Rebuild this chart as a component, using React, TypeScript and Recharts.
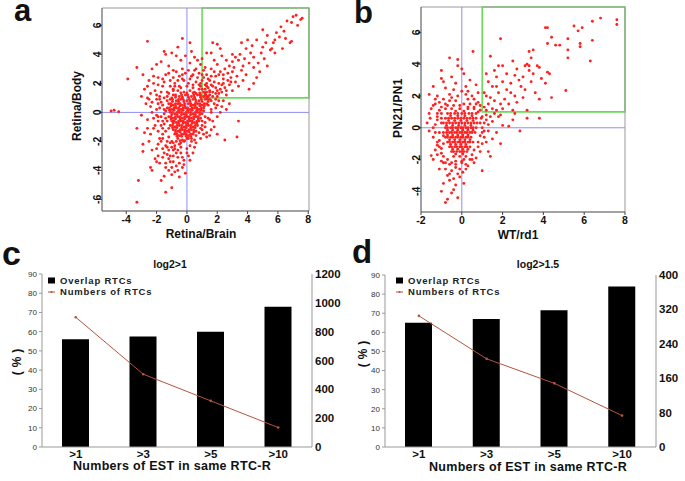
import React from 'react';
import {
  ScatterChart,
  Scatter,
  XAxis,
  YAxis,
  ReferenceLine,
  ReferenceArea,
  ComposedChart,
  Bar,
  Line,
  Legend,
} from 'recharts';

const FONT = '"Liberation Sans", Arial, Helvetica, sans-serif';

// scatter a: Retina/Brain (x) vs Retina/Body (y)
const A_POINTS_RAW = `
7.2,6.7 7.0,6.6 7.5,6.4 6.9,6.2 7.3,6.0 6.6,6.3 6.2,5.9 6.4,5.6 5.9,5.5 6.1,5.2 5.8,5.0 6.8,4.8 5.0,5.7 5.3,5.3
5.6,4.4 5.5,4.3 5.0,4.5 4.9,4.1 4.6,5.0 4.3,4.6 4.0,5.0 4.2,4.1 3.9,4.4 4.4,3.8 4.7,3.4 4.4,3.1 3.7,3.2 3.5,4.0
3.2,3.8 3.4,3.6 3.0,4.0 3.0,3.5 2.8,3.2 2.6,3.6 2.5,3.0 2.7,2.7 3.1,3.1 3.6,2.9 3.9,2.6 3.3,2.5 2.9,2.4 2.4,2.3
2.2,2.8 2.0,3.3 1.8,3.6 1.6,4.1 2.3,3.9 1.9,2.5 2.1,2.0 1.5,2.2 1.3,2.6 1.2,3.1 1.7,1.8 2.5,1.7 2.8,1.9 3.0,1.5
2.3,1.4 1.9,1.3 1.5,1.5 1.2,1.9 1.1,1.4 1.4,1.1 2.0,1.1 2.6,1.2 3.4,1.8 4.1,1.6 3.7,2.2 4.6,2.4 4.8,2.8 5.3,3.2
5.1,3.7 5.8,4.1 6.3,4.4 6.9,4.9 4.4,2.0 2.2,4.4 2.0,4.7 3.6,4.8 1.3,4.1 1.0,3.7 1.1,2.4 1.6,3.0 2.7,2.2 3.2,2.1
3.8,3.7 4.1,3.4 3.0,2.8 2.4,2.6 1.8,2.1 1.4,1.7 1.9,1.7 2.3,1.9 1.2,1.2 5.7,4.8 5.2,4.8 6.5,5.1 7.6,6.5
-2.6,4.9 -0.3,5.1 0.2,4.8 1.7,4.8 -1.5,4.2 -1.4,4.0 -1.0,4.1 -0.7,3.9 0.5,3.8 -0.4,3.6 0.2,3.4 -1.7,3.5 -2.0,3.3
-2.3,3.0 -1.2,3.2 -0.9,2.9 -0.3,3.0 0.1,2.9 0.6,3.0 0.9,3.3 0.4,2.6 -0.5,2.5 -1.4,2.6 -1.9,2.4 -2.5,2.2 -2.8,1.6
-3.3,3.1 -3.9,2.3 -1.1,2.2 -0.8,2.0 -0.2,2.2 0.2,2.3 0.7,2.4 0.9,2.0 -1.6,1.8 -2.1,1.5 -2.6,1.0 -1.3,1.4 -0.9,1.6
-0.5,1.8 0.0,1.8 0.4,1.9 0.8,1.6 -1.8,1.1 -3.0,1.1 -2.3,0.7 0.3,4.2 -0.1,3.9 0.7,3.6 -0.6,4.5 1.0,2.6 -2.9,2.6
-2.2,2.0 -1.0,1.0 0.9,1.2 -0.3,2.6 0.5,1.4
-1.9,1.9 -1.6,2.3 -1.2,2.7 -0.7,2.8 -0.1,2.7 0.5,2.9 0.8,2.7 1.1,2.9 -2.4,1.3 -2.0,0.9 -1.7,1.4 -1.1,1.8
-0.6,2.2 0.1,2.0 0.6,2.1 1.3,2.0 1.6,2.5 1.8,2.8 2.1,2.6 2.4,2.0 2.2,1.6 2.6,1.5 2.9,2.1 1.6,1.9 2.0,1.5
1.3,1.8 1.7,1.4 2.1,1.3 1.4,2.3 1.0,2.2 0.9,1.8 0.3,2.5 -0.3,2.3 -0.9,2.4 -1.5,2.1 -2.2,2.5 -2.6,1.8 -2.0,1.2
-1.3,1.1 -0.8,1.8
-4.8,0.15 -4.5,0.05 -5.0,0.1 -3.3,-1.1 -2.9,-2.2 -2.8,-1.4 -2.6,-0.5 -2.4,0.4 -2.0,-0.2 -1.9,0.6 -1.7,-0.9
-1.6,-1.5 -2.2,-1.1 -2.5,-2.0 -1.5,0.2 -1.4,-0.4 -1.3,0.8 -1.2,-1.1 -1.8,-1.8 -2.0,-2.5 -1.4,-2.3 -3.0,-0.2 -2.7,0.6
-2.2,-0.4 -2.1,-0.9 -1.9,-1.3 -1.7,-2.0 -1.5,-2.8 -1.2,-3.2 -0.9,-3.4 -0.5,-3.5 -0.3,-3.1 -0.7,-2.8 -1.0,-2.4
-1.3,-2.0 -1.6,-1.8 -1.9,-2.2 -2.3,-2.6 -2.0,-3.4 -1.6,-3.1 -1.1,-3.0 -0.8,-2.5 -0.4,-2.4 0.0,-2.8 0.3,-2.0
0.5,-2.4 0.2,-3.3 -0.2,-3.6 -0.6,-4.0 -1.4,-3.8 -1.0,-3.8 -0.4,-2.1 -0.9,-2.1 -1.3,-2.4 -2.4,-1.5 -2.6,-1.1
-2.3,0.0 -2.5,0.9 -1.8,0.3 -1.9,-0.3 -1.5,-0.1 -1.6,-0.6 -1.7,0.7
3.4,-0.6 3.3,-1.7 2.5,-1.9 1.3,-1.4 1.3,-1.7 1.8,-1.0 1.5,-0.5 1.2,-0.3 1.0,-0.9 1.6,0.2 2.0,0.5 2.4,0.8 1.9,0.9
1.4,0.5 1.1,0.1 2.2,0.0 2.8,0.6 1.0,-1.2 0.9,-1.8 1.5,-1.6
1.7,-0.6 2.0,-0.3 2.3,0.4 1.9,0.3 1.5,0.9 2.1,0.8 2.6,0.2 1.2,-1.0 1.6,-1.2 2.0,-1.5 1.1,-1.5
-3.2,-4.7 -3.3,-6.2 -1.4,-5.5 -1.0,-5.2 -1.7,-4.7 -1.0,-4.3 -0.5,-4.45 -2.1,-3.2 -2.4,-3.8 -1.4,-3.5 -2.3,-4.0
-2.9,-2.7 -1.1,-3.4 -0.7,-3.7 -1.3,-2.9 -0.9,-2.6 -0.6,-3.1 -0.4,-2.8 -0.2,-3.3 0.0,-2.5 -1.6,-2.5 -1.1,-2.1
-0.8,-2.3 -0.5,-2.2 -0.2,-2.0 0.2,-2.3 0.4,-2.8 0.6,-2.1 -1.9,-3.0 -1.2,-4.0 -0.8,-4.1 -0.3,-3.8 -1.5,-4.4
-0.6,-2.6 -0.9,-3.0 -1.2,-2.6 0.1,-3.0 -0.1,-4.2 0.0,-1.8 -1.8,-3.5
-1.5,1.0 -1.6,0.5 -1.7,-0.3 -1.5,-0.8 -1.4,-1.3 -1.2,-1.7 -1.0,-2.0 -0.7,-2.0 -1.6,-1.1 -1.3,-0.6 -1.4,0.1
-1.2,1.3 -0.9,1.5 -0.4,1.7 0.4,1.7 0.8,1.9 1.2,1.6 1.5,1.4 1.7,1.1 1.8,0.6 1.6,0.0 1.4,-0.4 1.2,-0.7 1.0,-0.6
0.9,-1.1 0.8,-1.4 0.6,-1.6 0.5,-1.9 0.3,-1.8 -1.8,0.9 -2.0,0.2 -1.9,-0.6
-0.6,1.5 -0.2,1.4 0.2,1.5 0.6,1.3 1.0,1.6 1.3,1.4
-0.9,1.2 -0.5,1.1 -0.1,1.2 0.3,1.1 0.7,1.2 1.1,1.1 1.5,1.2
-1.1,0.9 -0.7,0.8 -0.4,0.9 0.0,0.8 0.4,0.9 0.8,0.8 1.2,0.9 1.6,0.8
-1.2,0.6 -0.9,0.5 -0.6,0.6 -0.3,0.5 0.1,0.6 0.4,0.5 0.7,0.6 1.0,0.5 1.3,0.6
-1.3,0.3 -1.0,0.2 -0.7,0.3 -0.4,0.2 -0.1,0.3 0.2,0.2 0.5,0.3 0.8,0.2 1.1,0.3
-1.1,0.0 -0.8,-0.1 -0.5,0.0 -0.2,-0.1 0.1,0.0 0.4,-0.1 0.7,0.0 1.0,-0.1
-1.2,-0.3 -0.9,-0.4 -0.6,-0.3 -0.3,-0.4 0.0,-0.3 0.3,-0.4 0.6,-0.3 0.9,-0.4
-1.0,-0.6 -0.7,-0.7 -0.4,-0.6 -0.1,-0.7 0.2,-0.6 0.5,-0.7 0.8,-0.6
-1.1,-0.9 -0.8,-1.0 -0.5,-0.9 -0.2,-1.0 0.1,-0.9 0.4,-1.0 0.7,-0.9
-0.9,-1.2 -0.6,-1.3 -0.3,-1.2 0.0,-1.3 0.3,-1.2 0.6,-1.3
-0.8,-1.5 -0.5,-1.6 -0.2,-1.5 0.1,-1.6 0.4,-1.5
-0.6,-1.8 -0.3,-1.9 0.1,-1.8
-0.4,1.35 0.0,1.35 0.4,1.35 0.85,1.35 1.2,1.35
-0.75,1.05 -0.3,1.05 0.1,1.05 0.5,1.05 0.9,1.05 1.3,1.05
-0.95,0.75 -0.55,0.75 -0.2,0.75 0.2,0.75 0.6,0.75 1.0,0.75 1.4,0.75
-1.05,0.45 -0.75,0.45 -0.45,0.45 -0.15,0.45 0.25,0.45 0.55,0.45 0.85,0.45 1.15,0.45
-1.15,0.15 -0.85,0.15 -0.55,0.15 -0.25,0.15 0.05,0.15 0.35,0.15 0.65,0.15 0.95,0.15
-1.0,-0.15 -0.65,-0.15 -0.35,-0.15 -0.05,-0.15 0.25,-0.15 0.55,-0.15 0.85,-0.15
-1.05,-0.45 -0.75,-0.45 -0.45,-0.45 -0.15,-0.45 0.15,-0.45 0.45,-0.45 0.75,-0.45
-0.9,-0.75 -0.55,-0.75 -0.25,-0.75 0.05,-0.75 0.35,-0.75 0.65,-0.75
-0.95,-1.05 -0.65,-1.05 -0.35,-1.05 -0.05,-1.05 0.25,-1.05 0.55,-1.05
-0.75,-1.35 -0.45,-1.35 -0.15,-1.35 0.15,-1.35 0.45,-1.35
-0.65,-1.65 -0.35,-1.65 -0.05,-1.65 0.25,-1.65
-0.45,-1.95 -0.15,-1.95
-0.75,1.2 -0.35,1.2 0.05,1.2 0.45,1.2 0.85,1.2 1.25,1.2
-0.95,0.9 -0.55,0.9 -0.25,0.9 0.15,0.9 0.55,0.9 0.95,0.9 1.35,0.9
-1.05,0.6 -0.75,0.6 -0.45,0.6 -0.15,0.6 0.25,0.6 0.55,0.6 0.85,0.6 1.15,0.6
-1.15,0.3 -0.85,0.3 -0.55,0.3 -0.25,0.3 0.05,0.3 0.35,0.3 0.65,0.3 0.95,0.3
-0.95,0.0 -0.65,0.0 -0.35,0.0 -0.05,0.0 0.25,0.0 0.55,0.0 0.85,0.0
-1.05,-0.3 -0.75,-0.3 -0.45,-0.3 -0.15,-0.3 0.15,-0.3 0.45,-0.3 0.75,-0.3
-0.85,-0.6 -0.55,-0.6 -0.25,-0.6 0.05,-0.6 0.35,-0.6 0.65,-0.6
-0.95,-0.9 -0.65,-0.9 -0.35,-0.9 -0.05,-0.9 0.25,-0.9 0.55,-0.9
-0.75,-1.2 -0.45,-1.2 -0.15,-1.2 0.15,-1.2 0.45,-1.2
-0.65,-1.5 -0.35,-1.5 -0.05,-1.5 0.25,-1.5
`;

// scatter b: WT/rd1 (x) vs PN21/PN1 (y)
const B_POINTS_RAW = `
7.6,6.8 7.6,6.5 6.8,6.9 6.4,6.7 5.9,6.3 5.5,6.4 5.7,6.1 4.1,6.3 4.2,6.3 5.2,5.6 6.4,5.5 5.8,5.3 5.8,5.1 5.2,4.9
5.2,4.4 6.3,4.2 4.6,5.2 4.8,5.2 4.2,5.3 4.4,5.7 5.1,2.35 4.4,1.9 3.5,4.9 3.3,4.8 3.4,4.4 3.2,4.0 3.1,3.9 3.3,3.9
3.7,3.9 3.8,3.8 4.2,3.5 4.3,3.4 3.5,3.4 3.3,3.6 2.5,4.2 2.0,3.9 1.8,3.9 1.4,4.5 1.9,5.6 3.0,3.2 2.8,3.0 2.6,3.3
2.4,2.8 2.9,2.6 3.1,2.4 3.6,2.2 2.2,2.4 2.0,2.9 1.7,3.2 1.5,2.6 1.3,2.9 1.2,3.4 1.1,2.2 1.4,1.9 1.8,2.2 2.1,1.8
2.6,2.0 2.3,1.5 1.9,1.5 1.6,1.7 1.3,1.5 1.1,1.3 1.5,1.2 2.0,1.2 2.7,1.6 3.0,1.9 3.4,2.9 3.9,3.1 4.1,2.8 2.7,3.7
2.2,3.4 1.6,3.6 3.8,1.8 3.2,1.1 2.5,1.1 1.2,2.0 1.7,2.6 2.4,2.2
2.0,0.15 2.85,-0.2 3.2,0.6 3.8,0.6 1.5,-0.7 1.4,-1.8 1.0,-2.7 1.9,-1.0 1.3,-1.5 2.3,0.1 1.2,0.8 1.5,0.4 1.8,0.7
1.1,0.3 1.3,-0.2 2.5,0.5 1.7,-0.3 1.1,-0.6 1.0,-1.0 2.6,0.9 1.6,0.9
0.55,4.8 -0.6,4.4 -0.2,3.9 0.0,3.7 0.1,3.4 -1.0,3.6 -1.0,3.1 -1.4,2.6 -1.6,2.1 -0.5,3.2 0.4,3.0 0.7,2.7 -0.3,2.8
-0.8,2.5 0.2,2.6 0.8,2.2 -1.2,2.0 -0.6,2.1 0.0,2.3 0.5,2.0 -0.9,1.8 -0.3,1.7 0.3,1.8 0.8,1.6 -1.3,1.5 -0.7,1.4
-0.1,1.4 0.6,1.3 -1.1,1.1 0.9,1.1 -0.4,2.4 0.2,2.1 -1.5,1.2 0.4,1.5 -0.9,2.9 -0.2,4.3
-1.55,0.6 -1.5,-1.75 -1.4,-2.0 -1.2,-1.1 -1.3,0.2 -1.1,-0.3 -1.4,-0.6 -1.6,-0.2 -1.0,-1.6 -1.2,0.7 -0.9,-2.2
-1.1,-2.6 -1.3,-1.4 -1.7,0.3 -1.0,0.9
0.05,-2.8 -0.8,-4.7 -0.7,-4.5 -0.5,-4.1 -0.3,-3.6 -0.1,-3.1 -0.6,-3.3 -0.4,-3.9 -0.2,-2.9 0.2,-2.6 -0.5,-2.7
-0.7,-3.0 0.1,-3.5 0.3,-2.4 -0.3,-2.5 -0.9,-3.5 0.0,-2.2 0.4,-2.0 -0.6,-2.3 -0.2,-4.4 -1.0,-4.0
-1.0,1.3 -1.2,0.5 -1.1,-0.8 -1.0,-1.3 -0.9,-1.8 -0.7,-2.0 0.5,-1.7 0.6,-1.4 0.8,-0.9 0.9,-0.5 1.0,0.0 0.95,0.6
0.8,1.0 0.6,1.2 -0.8,1.2 0.3,1.3 -0.4,1.4 0.1,1.5 0.5,-2.0 -0.5,-2.2
-1.3,1.8 -1.1,1.6 -0.6,1.7 -0.2,2.0 0.3,2.3 0.6,1.8 0.9,1.4 1.2,1.1 0.7,1.5 -0.5,1.9 -0.8,1.5 -1.2,0.9
-1.4,0.0 -1.3,-0.3 -1.2,-0.9 -1.1,-1.2 -1.2,-1.7 -1.0,-2.1 -0.8,-2.6 -0.6,-2.9 -0.4,-3.2 -0.1,-2.6 0.2,-2.3
0.6,-2.2 0.7,-1.9 0.8,-1.2 1.2,-0.9 1.0,-0.3 1.3,0.2 1.2,0.5 1.4,0.7 1.7,1.1 1.9,0.8 1.0,0.7 1.1,-0.2 0.9,-1.5
-0.3,-2.3 -0.8,-2.2 0.1,-2.0 -1.6,0.9 -1.4,1.4 -0.9,-1.0 -0.9,-0.5 -1.0,0.3 -1.0,0.6
-0.5,1.2 -0.1,1.2 0.3,1.2
-0.7,0.9 -0.35,0.9 0.0,0.9 0.35,0.9 0.7,0.9
-0.8,0.6 -0.5,0.6 -0.2,0.6 0.1,0.6 0.4,0.6 0.7,0.6
-0.9,0.3 -0.6,0.3 -0.3,0.3 0.0,0.3 0.3,0.3 0.6,0.3 0.9,0.3
-0.8,0.0 -0.55,0.0 -0.3,0.0 -0.05,0.0 0.2,0.0 0.45,0.0 0.7,0.0
-0.9,-0.3 -0.6,-0.3 -0.35,-0.3 -0.1,-0.3 0.15,-0.3 0.4,-0.3 0.65,-0.3
-0.8,-0.6 -0.55,-0.6 -0.3,-0.6 -0.05,-0.6 0.2,-0.6 0.45,-0.6
-0.7,-0.9 -0.45,-0.9 -0.2,-0.9 0.05,-0.9 0.3,-0.9 0.55,-0.9
-0.6,-1.2 -0.35,-1.2 -0.1,-1.2 0.15,-1.2 0.4,-1.2
-0.5,-1.5 -0.25,-1.5 0.0,-1.5 0.25,-1.5
-0.4,-1.8 -0.1,-1.8 0.2,-1.8
-0.3,-2.1 0.0,-2.1
-0.3,1.05 0.1,1.05
-0.55,0.75 -0.2,0.75 0.15,0.75 0.5,0.75
-0.65,0.45 -0.35,0.45 -0.05,0.45 0.25,0.45 0.55,0.45
-0.75,0.15 -0.45,0.15 -0.15,0.15 0.15,0.15 0.45,0.15
-0.7,-0.15 -0.45,-0.15 -0.2,-0.15 0.05,-0.15 0.3,-0.15 0.55,-0.15
-0.7,-0.45 -0.45,-0.45 -0.2,-0.45 0.05,-0.45 0.3,-0.45
-0.6,-0.75 -0.35,-0.75 -0.1,-0.75 0.15,-0.75 0.4,-0.75
-0.55,-1.05 -0.3,-1.05 -0.05,-1.05 0.2,-1.05
-0.45,-1.35 -0.2,-1.35 0.05,-1.35 0.3,-1.35
-0.3,-1.65 0.05,-1.65
-0.55,0.9 -0.2,0.9 0.15,0.9 0.5,0.9
-0.65,0.6 -0.35,0.6 -0.05,0.6 0.25,0.6 0.55,0.6
-0.75,0.3 -0.45,0.3 -0.15,0.3 0.15,0.3 0.45,0.3 0.75,0.3
-0.7,0.0 -0.45,0.0 -0.2,0.0 0.05,0.0 0.3,0.0 0.55,0.0
-0.75,-0.3 -0.5,-0.3 -0.25,-0.3 0.0,-0.3 0.25,-0.3 0.5,-0.3
-0.7,-0.6 -0.45,-0.6 -0.2,-0.6 0.05,-0.6 0.3,-0.6
-0.6,-0.9 -0.35,-0.9 -0.1,-0.9 0.15,-0.9 0.4,-0.9
-0.5,-1.2 -0.25,-1.2 0.0,-1.2 0.25,-1.2
-0.4,-1.5 -0.1,-1.5 0.1,-1.5
`;

const A_X_TICKS = [-4, -2, 0, 2, 4, 6, 8];
const A_Y_TICKS = [-6, -4, -2, 0, 2, 4, 6];
const B_X_TICKS = [-2, 0, 2, 4, 6, 8];
const B_Y_TICKS = [-4, -2, 0, 2, 4, 6];

const CATEGORIES = ['>1', '>3', '>5', '>10'];
const C_OVERLAP = [56, 57.5, 60, 73];
const C_NUMBERS = [900, 505, 320, 135];
const D_OVERLAP = [65, 67, 71.5, 84];
const D_NUMBERS = [305, 205, 148, 73];
const PCT_TICKS = [0, 10, 20, 30, 40, 50, 60, 70, 80, 90];
const C_RIGHT_TICKS = [0, 200, 400, 600, 800, 1000, 1200];
const D_RIGHT_TICKS = [0, 80, 160, 240, 320, 400];

const parsePoints = (raw: string) =>
  raw
    .trim()
    .split(/\s+/)
    .map((p) => {
      const [x, y] = p.split(',').map(Number);
      return { x, y };
    });

const A_POINTS = parsePoints(A_POINTS_RAW);
const B_POINTS = parsePoints(B_POINTS_RAW);

const RED = '#ff2020';
const BLUE = '#8f8ff0';
const GREEN = '#6bdc5a';
const LINE_RED = '#b5533c';

const RedDot = (props: any) => <circle cx={props.cx} cy={props.cy} r={1.45} fill={RED} />;

const RotatedTick = (props: any) => {
  const { x, y, payload } = props;
  return (
    <text
      x={x}
      y={y}
      dy={4}
      transform={`rotate(-90 ${x} ${y})`}
      textAnchor="middle"
      fontSize={10.5}
      fontWeight="bold"
      fontFamily={FONT}
      fill="#111"
    >
      {payload.value}
    </text>
  );
};

interface ScatterPanelProps {
  left: number;
  width: number;
  data: { x: number; y: number }[];
  xDomain: [number, number];
  yDomain: [number, number];
  xTicks: number[];
  yTicks: number[];
  yAxisWidth: number;
  marginTop: number;
  marginRight: number;
  xAxisHeight: number;
}

function ScatterPanel({ left, width, data, xDomain, yDomain, xTicks, yTicks, yAxisWidth, marginTop, marginRight, xAxisHeight }: ScatterPanelProps) {
  return (
    <div style={{ position: 'absolute', left, top: 0 }}>
      <ScatterChart width={width} height={245} margin={{ top: marginTop, right: marginRight, bottom: 0, left: 0 }}>
        <XAxis
          type="number"
          dataKey="x"
          domain={xDomain}
          ticks={xTicks}
          allowDataOverflow
          height={xAxisHeight}
          tickSize={3}
          tickMargin={2}
          axisLine={{ stroke: '#444' }}
          tickLine={{ stroke: '#444' }}
          tick={{ fontSize: 10.5, fontWeight: 'bold', fill: '#111', fontFamily: FONT }}
        />
        <YAxis
          type="number"
          dataKey="y"
          domain={yDomain}
          ticks={yTicks}
          allowDataOverflow
          width={yAxisWidth}
          tickSize={3}
          tickMargin={2}
          axisLine={{ stroke: '#444' }}
          tickLine={{ stroke: '#444' }}
          tick={<RotatedTick />}
        />
        <ReferenceLine y={yDomain[1]} stroke="#999" />
        <ReferenceLine x={xDomain[1]} stroke="#999" />
        <ReferenceLine x={0} stroke={BLUE} />
        <ReferenceLine y={0} stroke={BLUE} />
        <Scatter data={data} shape={<RedDot />} isAnimationActive={false} />
        <ReferenceArea x1={1} x2={xDomain[1]} y1={1} y2={yDomain[1]} fill="none" fillOpacity={0} stroke={GREEN} strokeWidth={1.6} />
      </ScatterChart>
    </div>
  );
}

const renderLegend = (props: any) => {
  const items = [...(props.payload || [])].sort((a: any, b: any) => (a.dataKey === 'overlap' ? -1 : b.dataKey === 'overlap' ? 1 : 0));
  return (
    <div style={{ fontFamily: FONT, fontSize: 9.5, fontWeight: 'bold', letterSpacing: 0.8, color: '#222' }}>
      {items.map((entry: any) => (
        <div key={entry.value} style={{ display: 'flex', alignItems: 'center', height: 11 }}>
          <svg width={12} height={11} style={{ marginRight: 1 }}>
            {entry.dataKey === 'numbers' ? (
              <>
                <line x1={1} y1={6} x2={8} y2={6} stroke={LINE_RED} strokeWidth={1} />
                <circle cx={4.5} cy={6} r={1} fill={LINE_RED} />
              </>
            ) : (
              <rect x={1} y={2.5} width={7} height={6} fill="#000" />
            )}
          </svg>
          <span>{entry.value}</span>
        </div>
      ))}
    </div>
  );
};

interface BarPanelProps {
  left: number;
  overlap: number[];
  numbers: number[];
  rightTicks: number[];
  leftWidth: number;
  rightWidth: number;
  marginTop: number;
  legendLeft: number;
}

function BarPanel({ left, overlap, numbers, rightTicks, leftWidth, rightWidth, marginTop, legendLeft }: BarPanelProps) {
  const data = CATEGORIES.map((cat, i) => ({ cat, overlap: overlap[i], numbers: numbers[i] }));
  return (
    <div style={{ position: 'absolute', left, top: 240 }}>
      <ComposedChart width={345} height={241} data={data} margin={{ top: marginTop, right: 0, bottom: 0, left: 0 }}>
        <XAxis
          dataKey="cat"
          height={34}
          interval={0}
          tickLine={false}
          tickSize={0}
          tickMargin={3}
          axisLine={{ stroke: '#999' }}
          tick={{ fontSize: 11.5, fontWeight: 'bold', fill: '#111', fontFamily: FONT }}
        />
        <YAxis
          yAxisId="left"
          domain={[0, 90]}
          ticks={PCT_TICKS}
          interval={0}
          width={leftWidth}
          tickSize={3}
          tickMargin={2}
          axisLine={{ stroke: '#999' }}
          tickLine={{ stroke: '#999' }}
          tick={{ fontSize: 8, fill: '#333', fontFamily: FONT }}
        />
        <YAxis
          yAxisId="right"
          orientation="right"
          domain={[0, rightTicks[rightTicks.length - 1]]}
          ticks={rightTicks}
          interval={0}
          width={rightWidth}
          tickLine={false}
          tickSize={0}
          tickMargin={3}
          axisLine={{ stroke: '#999' }}
          tick={{ fontSize: 11.5, fontWeight: 'bold', fill: '#111', fontFamily: FONT }}
        />
        <Legend
          layout="vertical"
          align="center"
          verticalAlign="middle"
          content={renderLegend}
          wrapperStyle={{ left: legendLeft, top: 35, width: 'auto' }}
        />
        <Bar yAxisId="left" dataKey="overlap" name="Overlap RTCs" fill="#000" barSize={27} isAnimationActive={false} />
        <Line
          yAxisId="right"
          type="linear"
          dataKey="numbers"
          name="Numbers of RTCs"
          stroke={LINE_RED}
          strokeWidth={1}
          dot={{ r: 1.3, fill: LINE_RED, stroke: 'none' }}
          isAnimationActive={false}
        />
      </ComposedChart>
    </div>
  );
}

const textStyle = { fontFamily: FONT, fontWeight: 'bold' as const, fill: '#111' };

export default function App() {
  return (
    <div style={{ position: 'absolute', left: 0, top: 0, width: 685, height: 481, background: '#fff', overflow: 'hidden' }}>
      <ScatterPanel
        left={0}
        width={320}
        data={A_POINTS}
        xDomain={[-5.6, 8.05]}
        yDomain={[-6.8, 7.2]}
        xTicks={A_X_TICKS}
        yTicks={A_Y_TICKS}
        yAxisWidth={102}
        marginTop={8}
        marginRight={11}
        xAxisHeight={34}
      />
      <ScatterPanel
        left={340}
        width={300}
        data={B_POINTS}
        xDomain={[-2, 8]}
        yDomain={[-5.3, 7.6]}
        xTicks={B_X_TICKS}
        yTicks={B_Y_TICKS}
        yAxisWidth={81}
        marginTop={7}
        marginRight={15}
        xAxisHeight={33}
      />
      <BarPanel
        left={0}
        overlap={C_OVERLAP}
        numbers={C_NUMBERS}
        rightTicks={C_RIGHT_TICKS}
        leftWidth={42}
        rightWidth={33}
        marginTop={34}
        legendLeft={47}
      />
      <BarPanel
        left={340}
        overlap={D_OVERLAP}
        numbers={D_NUMBERS}
        rightTicks={D_RIGHT_TICKS}
        leftWidth={45}
        rightWidth={29}
        marginTop={35}
        legendLeft={55}
      />
      <svg width={685} height={481} style={{ position: 'absolute', left: 0, top: 0, pointerEvents: 'none' }}>
        <text x={14} y={21} fontSize={31} {...textStyle}>a</text>
        <text x={354} y={23} fontSize={31} {...textStyle}>b</text>
        <text x={2} y={265} fontSize={34} {...textStyle}>c</text>
        <text x={352} y={263} fontSize={33} {...textStyle}>d</text>

        <text x={81} y={106} fontSize={12} textAnchor="middle" transform="rotate(-90 81 106)" {...textStyle}>Retina/Body</text>
        <text x={201} y={238} fontSize={12} textAnchor="middle" {...textStyle}>Retina/Brain</text>
        <text x={402} y={108} fontSize={12} letterSpacing={0.4} textAnchor="middle" transform="rotate(-90 402 108)" {...textStyle}>PN21/PN1</text>
        <text x={518} y={239} fontSize={12} textAnchor="middle" {...textStyle}>WT/rd1</text>

        <text x={170} y={268} fontSize={10.5} textAnchor="middle" {...textStyle}>log2&gt;1</text>
        <text x={538} y={268} fontSize={10.5} textAnchor="middle" {...textStyle}>log2&gt;1.5</text>
        <text x={172} y={470} fontSize={12.5} letterSpacing={0.3} textAnchor="middle" {...textStyle}>Numbers of EST in same RTC-R</text>
        <text x={528} y={471} fontSize={12.5} letterSpacing={0.3} textAnchor="middle" {...textStyle}>Numbers of EST in same RTC-R</text>
        <text x={21} y={360} fontSize={12} letterSpacing={4} textAnchor="middle" transform="rotate(-90 21 360)" {...textStyle}>(%)</text>
        <text x={367} y={352} fontSize={12} letterSpacing={4} textAnchor="middle" transform="rotate(-90 367 352)" {...textStyle}>(%)</text>
      </svg>
    </div>
  );
}
